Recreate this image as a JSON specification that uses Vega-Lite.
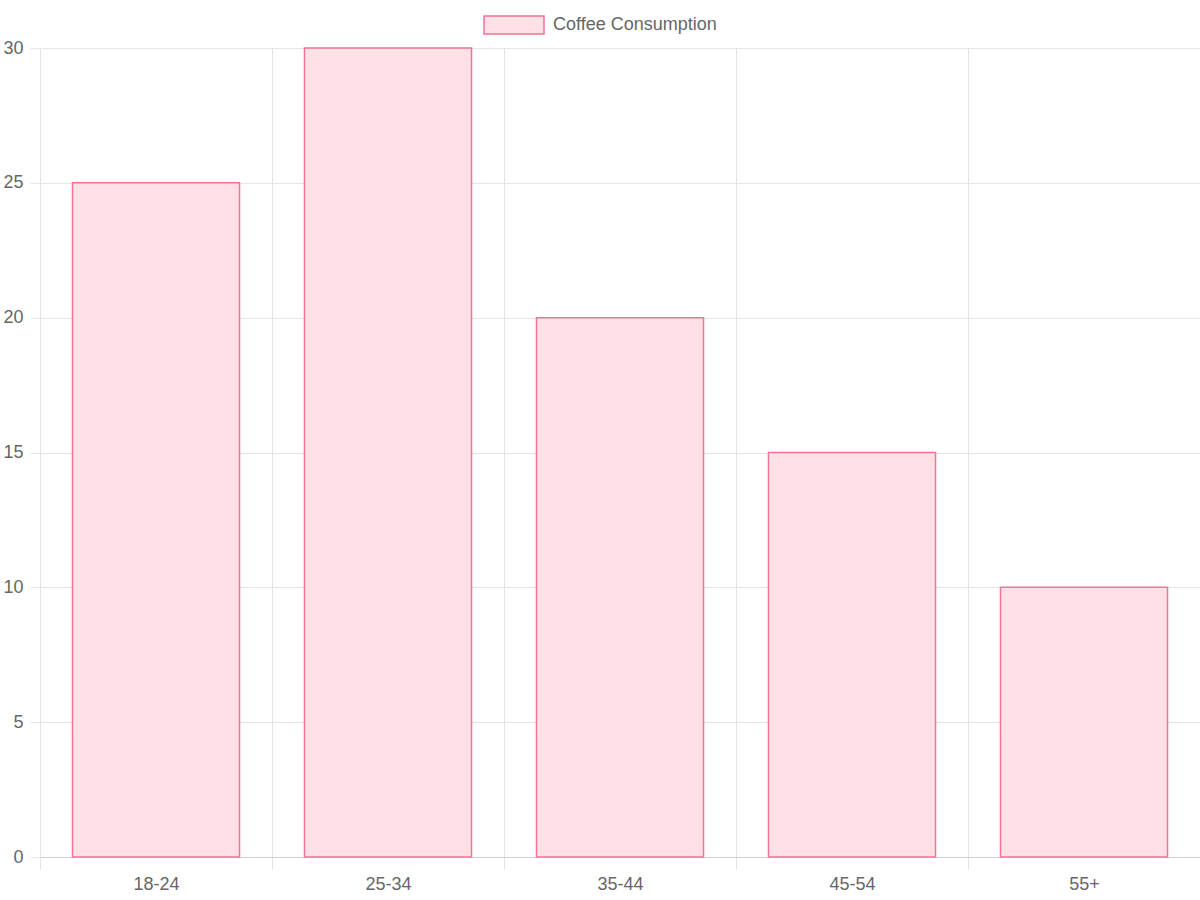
{
  "$schema": "https://vega.github.io/schema/vega-lite/v6.json",
  "autosize": "none",
  "width": 1160,
  "height": 809,
  "padding": {"left": 40, "top": 48, "right": 0, "bottom": 43},
  "background": "white",
  "config": {
    "view": {"stroke": null},
    "font": "Liberation Sans",
    "axis": {
      "labelFont": "Liberation Sans",
      "labelFontSize": 18,
      "labelColor": "#666666",
      "gridColor": "#e5e5e5",
      "tickColor": "#e5e5e5",
      "domainColor": "#d0d0d0",
      "title": null
    },
    "legend": {
      "labelLimit": 400
    }
  },
  "data": {
    "values": [
      {"age": "18-24", "consumption": 25, "series": "Coffee Consumption"},
      {"age": "25-34", "consumption": 30, "series": "Coffee Consumption"},
      {"age": "35-44", "consumption": 20, "series": "Coffee Consumption"},
      {"age": "45-54", "consumption": 15, "series": "Coffee Consumption"},
      {"age": "55+", "consumption": 10, "series": "Coffee Consumption"}
    ]
  },
  "mark": {
    "type": "bar",
    "width": {"band": 0.72},
    "strokeWidth": 1.5,
    "fillOpacity": 1
  },
  "encoding": {
    "x": {
      "field": "age",
      "type": "nominal",
      "sort": null,
      "scale": {"paddingInner": 0, "paddingOuter": 0},
      "axis": {
        "labelAngle": 0,
        "grid": true,
        "tickBand": "extent",
        "tickSize": 12,
        "labelPadding": 6
      }
    },
    "y": {
      "field": "consumption",
      "type": "quantitative",
      "scale": {"domain": [0, 30], "nice": false},
      "axis": {
        "values": [0, 5, 10, 15, 20, 25, 30],
        "tickSize": 10,
        "labelPadding": 7,
        "domainColor": "#e5e5e5"
      }
    },
    "fill": {
      "field": "series",
      "type": "nominal",
      "scale": {"range": ["#ffe0e6"]},
      "legend": {
        "title": null,
        "orient": "none",
        "legendX": 443,
        "legendY": -54,
        "symbolType": "M-1,-0.3L1,-0.3L1,0.3L-1,0.3Z",
        "symbolSize": 3600,
        "symbolStrokeWidth": 1.5,
        "symbolOpacity": 1,
        "labelFont": "Liberation Sans",
        "labelFontSize": 18,
        "labelColor": "#666666",
        "labelOffset": 8,
        "labelLimit": 400,
        "padding": 0
      }
    },
    "stroke": {
      "field": "series",
      "type": "nominal",
      "scale": {"range": ["#f07396"]},
      "legend": {
        "title": null,
        "orient": "none",
        "legendX": 443,
        "legendY": -54,
        "symbolType": "M-1,-0.3L1,-0.3L1,0.3L-1,0.3Z",
        "symbolSize": 3600,
        "symbolStrokeWidth": 1.5,
        "symbolOpacity": 1,
        "labelFont": "Liberation Sans",
        "labelFontSize": 18,
        "labelColor": "#666666",
        "labelOffset": 8,
        "labelLimit": 400,
        "padding": 0
      }
    }
  }
}
